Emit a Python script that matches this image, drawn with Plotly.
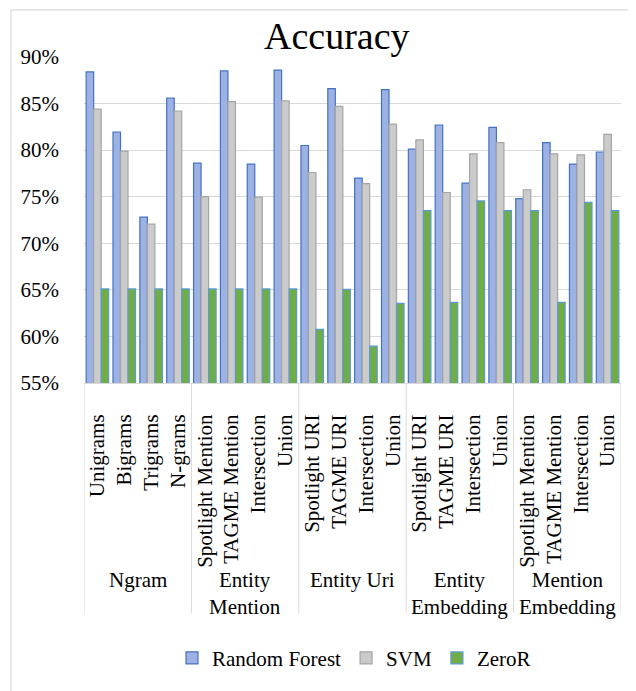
import plotly.graph_objects as go

groups = ["Ngram", "Entity<br>Mention", "Entity Uri", "Entity<br>Embedding", "Mention<br>Embedding"]
categories = [
    "Unigrams", "Bigrams", "Trigrams", "N-grams",
    "Spotlight Mention", "TAGME Mention", "Intersection", "Union",
    "Spotlight URI", "TAGME URI", "Intersection", "Union",
    "Spotlight URI", "TAGME URI", "Intersection", "Union",
    "Spotlight Mention", "TAGME Mention", "Intersection", "Union",
]
random_forest = [88.4, 81.95, 72.8, 85.6,
                 78.6, 88.5, 78.5, 88.6,
                 80.5, 86.6, 77.0, 86.5,
                 80.1, 82.7, 76.45, 82.45,
                 74.8, 80.8, 78.5, 79.8]
svm = [84.4, 79.9, 72.05, 84.2,
       75.0, 85.2, 74.95, 85.3,
       77.6, 84.7, 76.4, 82.8,
       81.1, 75.45, 79.6, 80.8,
       75.75, 79.6, 79.5, 81.7]
zeror = [65.1, 65.1, 65.1, 65.1,
         65.1, 65.1, 65.1, 65.1,
         60.75, 65.05, 58.95, 63.55,
         73.5, 63.65, 74.55, 73.5,
         73.5, 63.65, 74.4, 73.5]
y_ticks = [55, 60, 65, 70, 75, 80, 85, 90]
y_tick_labels = ["55%", "60%", "65%", "70%", "75%", "80%", "85%", "90%"]

FONT = "Liberation Serif"
GRID = "#D9D9D9"
xs = list(range(len(categories)))

fig = go.Figure()
fig.add_trace(go.Bar(x=xs, y=random_forest, name="Random Forest",
                     marker=dict(color="#9DB1E2", line=dict(color="#4472C4", width=1.2))))
fig.add_trace(go.Bar(x=xs, y=svm, name="SVM",
                     marker=dict(color="#CBCBCB", line=dict(color="#A5A5A5", width=1.2))))
fig.add_trace(go.Bar(x=xs, y=zeror, name="ZeroR",
                     marker=dict(color="#70AD47", line=dict(color="#5B9BD5", width=1.2))))

# page has an 8px body margin; figure is sized so it fits the 636x691 window
OFF = 8
FW, FH = 636 - OFF, 691 - OFF
L, R, T, B = 74, 15, 49, 300
W, H = FW - L - R, FH - T - B

def page_y(py):
    return (FH - B - (py - OFF)) / H

def page_x(px):
    return (px - OFF - L) / W

shapes = []
n_per = 4
for k in range(len(groups) + 1):
    xv = k * n_per - 0.5
    shapes.append(dict(type="line", xref="x", yref="paper", x0=xv, x1=xv,
                       y0=0, y1=page_y(627), line=dict(color=GRID, width=1)))
shapes.append(dict(type="rect", xref="paper", yref="paper",
                   x0=page_x(8.7), x1=page_x(700), y0=page_y(8.7), y1=page_y(760),
                   line=dict(color=GRID, width=1.2), fillcolor="rgba(0,0,0,0)", layer="below"))

annotations = []
for k, g in enumerate(groups):
    annotations.append(dict(x=k * n_per + 1.5, xref="x", y=page_y(578), yref="paper",
                            text=g, showarrow=False, xanchor="center", yanchor="top",
                            font=dict(family=FONT, size=21, color="#000000")))
annotations.append(dict(x=page_x(335.5), xref="paper", y=page_y(35), yref="paper",
                        text="Accuracy", showarrow=False, xanchor="center", yanchor="middle",
                        font=dict(family=FONT, size=38, color="#000000")))

fig.update_layout(
    width=FW, height=FH,
    margin=dict(l=L, r=R, t=T, b=B, pad=0),
    paper_bgcolor="white", plot_bgcolor="white",
    barmode="group", bargap=0.16, bargroupgap=0,
    font=dict(family=FONT, size=21, color="#000000"),
    shapes=shapes, annotations=annotations,
    legend=dict(orientation="h", x=page_x(353), xanchor="center",
                y=page_y(673), yanchor="middle",
                font=dict(family=FONT, size=21, color="#000000"),
                itemwidth=30, tracegroupgap=0),
    xaxis=dict(range=[-0.5, len(categories) - 0.5], tickmode="array", tickvals=xs,
               ticktext=categories, tickangle=-90, showgrid=False, zeroline=False,
               showline=True, linecolor=GRID, linewidth=1, ticks="",
               ticklabelstandoff=22,
               tickfont=dict(family=FONT, size=21, color="#000000")),
    yaxis=dict(range=[55, 90], tickmode="array", tickvals=y_ticks, ticktext=y_tick_labels,
               showgrid=True, gridcolor=GRID, gridwidth=1, zeroline=False,
               showline=False, ticks="", ticklabelstandoff=24,
               tickfont=dict(family=FONT, size=21, color="#000000")),
)

fig.write_html("out.html")
